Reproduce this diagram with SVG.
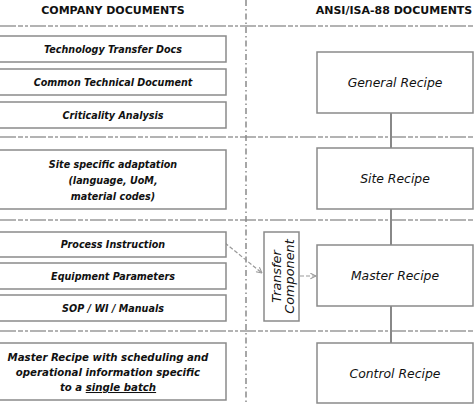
<svg xmlns="http://www.w3.org/2000/svg" width="474" height="405" viewBox="0 0 474 405">
<defs>
<style>
.hdr{font-family:"DejaVu Sans",Verdana,sans-serif;font-weight:bold;font-size:11px;fill:#111;text-anchor:middle}
.lb{fill:#fff;stroke:#8a8a8a;stroke-width:1.5}
.lt{font-family:"DejaVu Sans",Verdana,sans-serif;font-weight:bold;font-style:italic;font-size:9.6px;fill:#111;text-anchor:middle}
.mt{font-size:10.2px}
.rb{fill:#fff;stroke:#8a8a8a;stroke-width:1.5}
.rt{font-family:"DejaVu Sans",Verdana,sans-serif;font-style:italic;font-size:12.4px;fill:#111;text-anchor:middle}
.tc{font-size:12.8px}
.sep{stroke:#9a9a9a;stroke-width:1.5;stroke-dasharray:16,2,5,2,3,2;fill:none}
.vsep{stroke:#8a8a8a;stroke-width:1.5;stroke-dasharray:6,3,1.5,3;fill:none}
.conn{stroke:#888;stroke-width:2;fill:none}
.dash{stroke:#999;stroke-width:1.2;stroke-dasharray:4,2;fill:none}
</style>
<marker id="ah" viewBox="0 0 10 10" refX="9" refY="5" markerWidth="7" markerHeight="7" orient="auto" markerUnits="userSpaceOnUse">
<path d="M1,1 L9,5 L1,9" fill="none" stroke="#999" stroke-width="1.5"/>
</marker>
</defs>
<rect width="474" height="405" fill="#fff"/>
<text class="hdr" x="113" y="14">COMPANY DOCUMENTS</text>
<text class="hdr" x="394" y="14">ANSI/ISA-88 DOCUMENTS</text>
<g id="separators">
<line class="sep" x1="0" y1="26" x2="474" y2="26"/>
<line class="sep" x1="0" y1="137" x2="474" y2="137"/>
<line class="sep" x1="0" y1="220" x2="474" y2="220"/>
<line class="sep" x1="0" y1="331" x2="474" y2="331"/>
<line class="vsep" x1="246" y1="0" x2="246" y2="405"/>
</g>
<g id="connectors">
<line class="conn" x1="391" y1="113" x2="391" y2="148"/>
<line class="conn" x1="391" y1="209" x2="391" y2="245"/>
<line class="conn" x1="391" y1="306" x2="391" y2="343"/>
<line class="dash" x1="225" y1="243" x2="262" y2="273" marker-end="url(#ah)"/>
<line class="dash" x1="300" y1="276" x2="316" y2="276" marker-end="url(#ah)"/>
</g>
<g id="tech-transfer"><rect class="lb" x="-1" y="36" width="227" height="26"/><text class="lt" x="113" y="52.5">Technology Transfer Docs</text></g>
<g id="ctd"><rect class="lb" x="-1" y="69" width="227" height="26"/><text class="lt" x="113" y="85.5">Common Technical Document</text></g>
<g id="criticality"><rect class="lb" x="-1" y="102" width="227" height="26"/><text class="lt" x="113" y="118.5">Criticality Analysis</text></g>
<g id="site-adapt"><rect class="lb" x="-1" y="150" width="227" height="59"/>
<text class="lt" x="113" y="168">Site specific adaptation</text>
<text class="lt" x="113" y="184">(language, UoM,</text>
<text class="lt" x="113" y="200">material codes)</text></g>
<g id="process-instr"><rect class="lb" x="-1" y="232" width="227" height="25"/><text class="lt" x="113" y="248">Process Instruction</text></g>
<g id="equip-params"><rect class="lb" x="-1" y="263" width="227" height="26"/><text class="lt" x="113" y="279.5">Equipment Parameters</text></g>
<g id="sop"><rect class="lb" x="-1" y="295" width="227" height="26"/><text class="lt" x="113" y="311.5">SOP / WI / Manuals</text></g>
<g id="master-sched"><rect class="lb" x="-1" y="343" width="227" height="57"/>
<text class="lt mt" x="108" y="360.5">Master Recipe with scheduling and</text>
<text class="lt mt" x="108" y="375.5">operational information specific</text>
<text class="lt mt" x="108" y="391">to a <tspan text-decoration="underline">single batch</tspan></text></g>
<g id="transfer"><rect class="rb" x="264" y="232" width="35" height="89"/>
<text class="rt tc" transform="translate(280.5,276.5) rotate(-90)" x="0" y="0">Transfer</text>
<text class="rt tc" transform="translate(293.5,276.5) rotate(-90)" x="0" y="0">Component</text></g>
<g id="general"><rect class="rb" x="317" y="52" width="156" height="61"/><text class="rt" x="395" y="87">General Recipe</text></g>
<g id="site"><rect class="rb" x="317" y="148" width="156" height="61"/><text class="rt" x="395" y="183">Site Recipe</text></g>
<g id="master"><rect class="rb" x="317" y="245" width="156" height="61"/><text class="rt" x="395" y="280">Master Recipe</text></g>
<g id="control"><rect class="rb" x="317" y="343" width="156" height="60"/><text class="rt" x="395" y="378">Control Recipe</text></g>
</svg>
